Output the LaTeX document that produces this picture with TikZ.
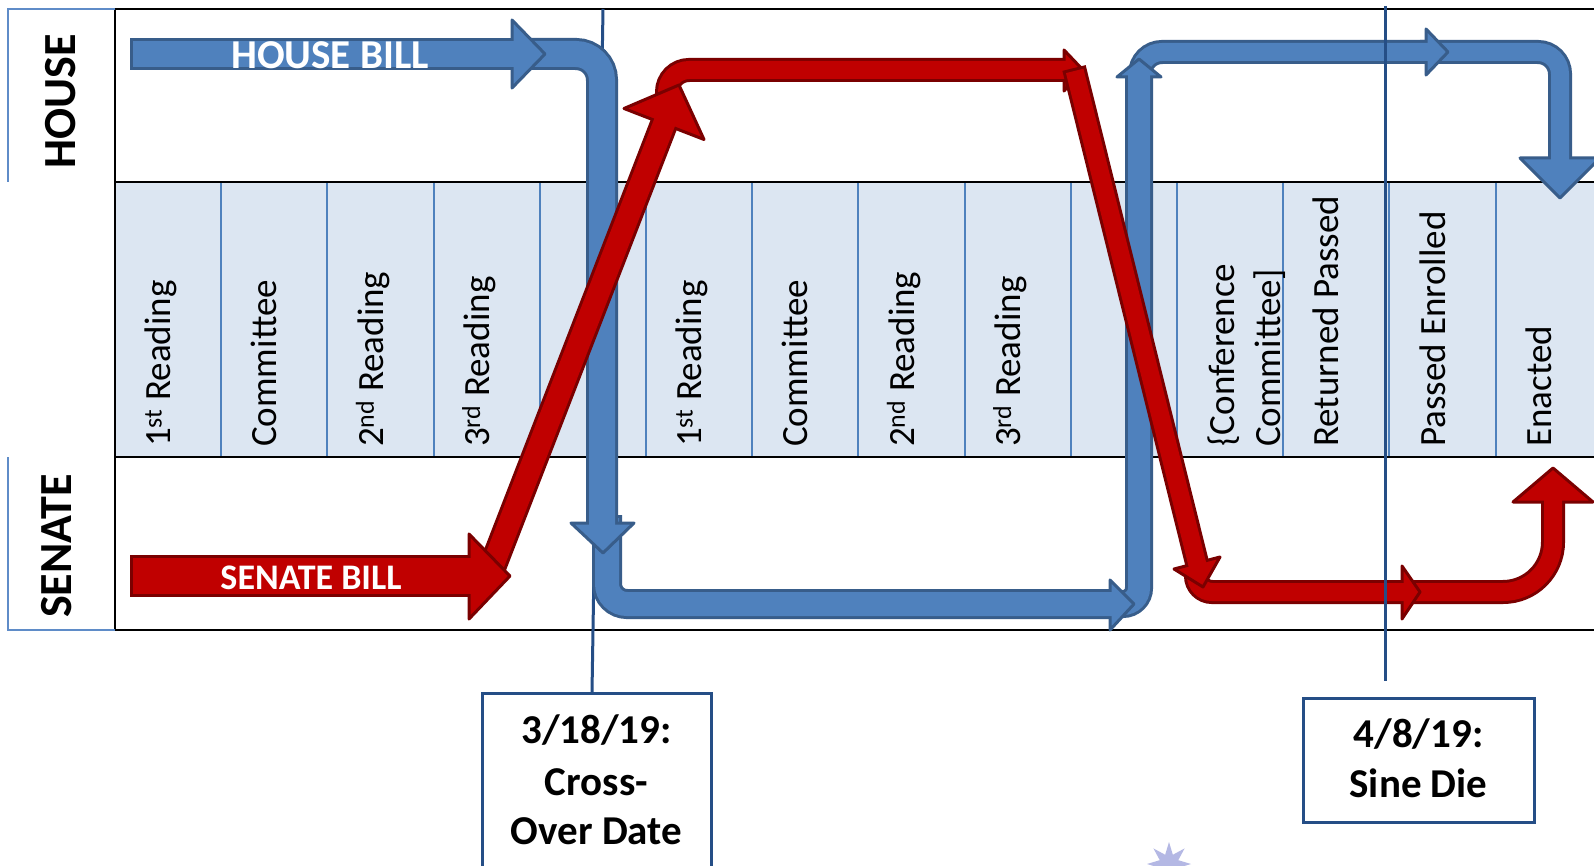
\documentclass[tikz,border=0pt]{standalone}
\usepackage{fontspec}
\setmainfont{Carlito}
\usetikzlibrary{shapes.geometric}
\definecolor{bluefill}{RGB}{79,129,189}
\definecolor{blueline}{RGB}{56,93,138}
\definecolor{redfill}{RGB}{192,0,0}
\definecolor{redline}{RGB}{122,0,0}
\definecolor{bandfill}{RGB}{220,230,242}
\definecolor{colline}{RGB}{79,129,189}
\definecolor{labblue}{RGB}{95,140,200}
\definecolor{dateblue}{RGB}{37,78,134}
\definecolor{starc}{RGB}{180,184,228}
% #1 fill, #2 outline, #3 outer width, #4 inner width, #5 corner radius, #6 body path, #7 head polygon
\newcommand{\blockarrow}[7]{%
  \draw[line width=#3pt, draw=#2, rounded corners=#5pt] #6;
  \filldraw[fill=#1, draw=#2, line width=3pt, line join=round] #7 -- cycle;
  \draw[line width=#4pt, draw=#1, rounded corners=#5pt, shorten <=3pt, shorten >=-3pt] #6;
}
\tikzset{
  frameline/.style={draw=black, line width=2.5pt},
  colsep/.style={draw=colline, line width=2pt},
  labline/.style={draw=labblue, line width=2pt},
  colabel/.style={rotate=90, anchor=base west, inner sep=0pt, font=\fontsize{37}{40}\selectfont},
  chamber/.style={rotate=90, inner sep=0pt, font=\bfseries\fontsize{46}{50}\selectfont},
  billtext/.style={text=white, inner sep=0pt, font=\bfseries\fontsize{#1}{#1}\selectfont},
  datebox/.style={draw=dateblue, line width=3pt, fill=white, inner sep=0pt, anchor=north},
  datetext/.style={anchor=base, inner sep=0pt, font=\bfseries\fontsize{41}{44}\selectfont},
  dateline/.style={draw=dateblue, line width=3pt},
}
\begin{document}
\begin{tikzpicture}[x=1pt,y=-1pt]
\useasboundingbox (0,0) rectangle (1594,866);
\clip (0,0) rectangle (1594,866);
\fill[white] (0,0) rectangle (1594,866);

% band and frame
\fill[bandfill] (115,182) rectangle (1594,457);
\foreach \i in {1,...,14} \draw[colsep] ({115+106.2*\i},182) -- ({115+106.2*\i},457);
\draw[frameline] (1594,9) -- (115,9) -- (115,630) -- (1594,630);
\draw[frameline] (115,182) -- (1594,182);
\draw[frameline] (115,457) -- (1594,457);
\draw[labline] (115,9) -- (8,9) -- (8,182);
\draw[labline] (8,457) -- (8,630) -- (115,630);

\node[chamber] (house) at (61,101.5) {HOUSE};
\node[chamber] (senate) at (57,546) {SENATE};

% column labels
\node[colabel] (h1) at (170.6,447) {1\textsuperscript{st} Reading};
\node[colabel] (hc) at (276.8,447) {Committee};
\node[colabel] (h2) at (383,447) {2\textsuperscript{nd} Reading};
\node[colabel] (h3) at (489.2,447) {3\textsuperscript{rd} Reading};
\node[colabel] (s1) at (701.6,447) {1\textsuperscript{st} Reading};
\node[colabel] (sc) at (807.8,447) {Committee};
\node[colabel] (s2) at (914,447) {2\textsuperscript{nd} Reading};
\node[colabel] (s3) at (1020.2,447) {3\textsuperscript{rd} Reading};
\node[colabel] (conf1) at (1234,447) {\{Conference};
\node[colabel] (conf2) at (1280,447) {Committee]};
\node[colabel] (retp) at (1338.8,447) {Returned Passed};
\node[colabel] (penr) at (1445,447) {Passed Enrolled};
\node[colabel] (enac) at (1551.2,447) {Enacted};

% date boxes
\node[datebox, minimum width=229pt, minimum height=220pt] (crossbox) at (596.5,692) {};
\node[datebox, minimum width=231pt, minimum height=124pt] (sinebox) at (1418.5,697) {};
\node[datetext] (d1a) at (596.5,743) {3/18/19:};
\node[datetext] (d1b) at (596.5,795) {Cross-};
\node[datetext] (d1c) at (596.5,844) {Over Date};
\node[datetext] (d2a) at (1418.5,747) {4/8/19:};
\node[datetext] (d2b) at (1418.5,797) {Sine Die};

% cross-over line (behind arrows)
\coordinate (xotop) at (603,9);
\draw[dateline] (xotop) -- ([xshift=-4.5pt]crossbox.north);

% blue arrows
\blockarrow{bluefill}{blueline}{24}{18}{22}{(1420,52) -- (1560,52) -- (1560,158)}{(1520,158) -- (1560,198) -- (1600,158)}
\blockarrow{bluefill}{blueline}{24}{18}{22}{(1140,85) -- (1140,52) -- (1426,52)}{(1426,29) -- (1448,52) -- (1426,75)}
\blockarrow{bluefill}{blueline}{28}{22}{16}{(1100,604) -- (1139,604) -- (1139,77)}{(1117,77) -- (1139,59) -- (1161,77)}
\blockarrow{bluefill}{blueline}{30}{24}{20}{(607,515) -- (607,604) -- (1110,604)}{(1110,580) -- (1134,604) -- (1110,630)}
\blockarrow{bluefill}{blueline}{32}{26}{26}{(515,54) -- (602,54) -- (602,523)}{(571,523) -- (603,553) -- (634,523)}
\blockarrow{bluefill}{blueline}{32}{26}{0}{(130,54) -- (512,54)}{(512,20) -- (545,54) -- (512,88)}

% red arrows
\blockarrow{redfill}{redline}{24}{18}{50}{(1410,592) -- (1553,592) -- (1553,502)}{(1513,502) -- (1553,468) -- (1593,502)}
\blockarrow{redfill}{redline}{24}{18}{16}{(1196,572) -- (1196,592) -- (1402,592)}{(1402,566) -- (1420,592) -- (1402,619)}
\blockarrow{redfill}{redline}{24}{18}{22}{(667,105) -- (667,70) -- (1064,70)}{(1064,50) -- (1083,70) -- (1064,91)}
\blockarrow{redfill}{redline}{24}{18}{0}{(1074,68) -- (1197,563)}{(1220,557) -- (1203,587) -- (1174,569)}
\blockarrow{redfill}{redline}{28}{22}{0}{(488,578) -- (664,124)}{(624,108.5) -- (679,85) -- (704,139.5)}
\blockarrow{redfill}{redline}{42}{36}{0}{(130,576) -- (469,576)}{(469,534) -- (510,576) -- (469,619)}

\node[billtext=41] (hbill) at (330,55) {HOUSE BILL};
\node[billtext=36] (sbill) at (311,578) {SENATE BILL};

% sine die line (on top)
\coordinate (sdtop) at (1385,6);
\coordinate (sdend) at (1385,681);
\draw[dateline] (sdtop) -- (sdend);

% decorative burst at the bottom
\node[star, star points=8, star point ratio=2.2, minimum size=44pt, fill=starc, inner sep=0pt] (burst) at (1169,864) {};
\end{tikzpicture}
\end{document}
